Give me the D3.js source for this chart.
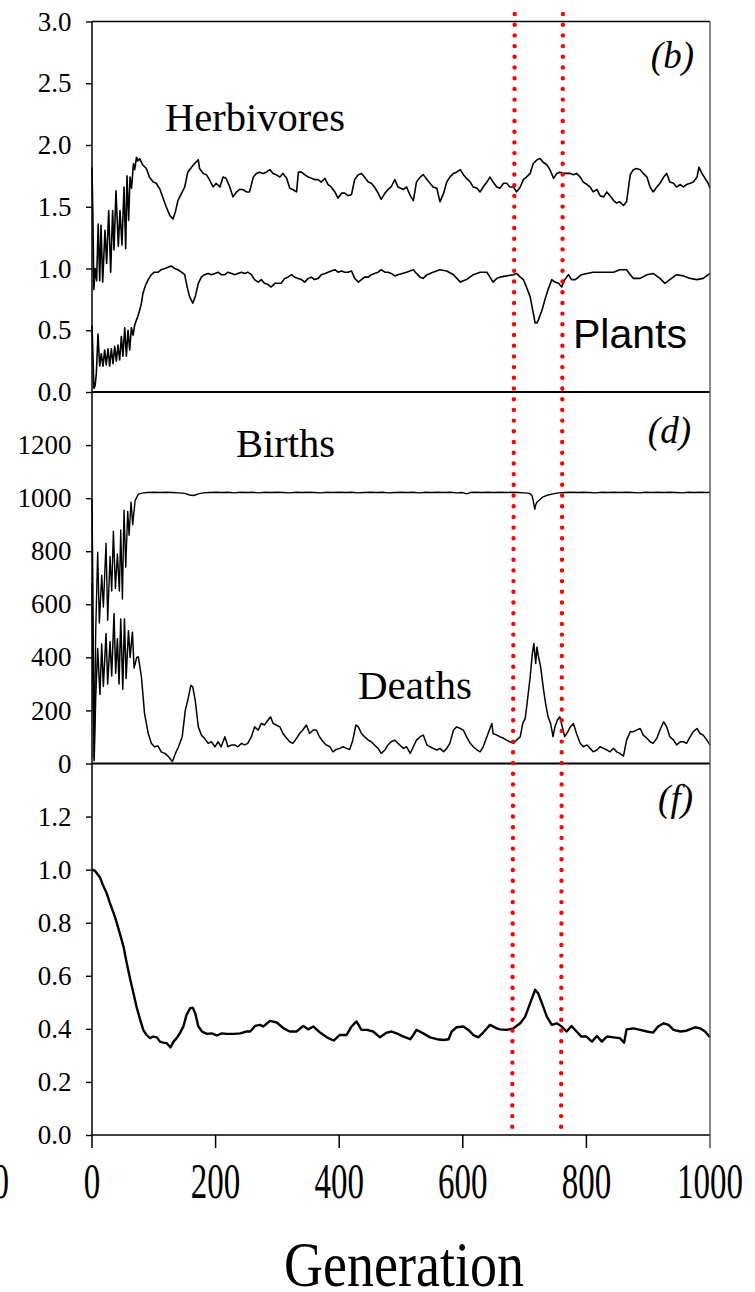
<!DOCTYPE html>
<html>
<head>
<meta charset="utf-8">
<script src="https://cdn.jsdelivr.net/npm/d3@7"></script>
<style>
  html, body { margin: 0; padding: 0; background: #fff; overflow: hidden; }
  svg { display: block; }
</style>
</head>
<body>
<svg id="chart" width="755" height="1292"></svg>
<script>
// Each series is a list of [generation, value] readings.

// ---- Panel (b): herbivore and plant densities ----
const herbivores = [[0,1.82],[1.5,1.40],[3,0.83],[5,1.00],[7.5,0.90],[10,1.36],[12.5,0.90],[14.6,1.35],[17.3,0.89],[21,1.31],[23.7,1.04],[27,1.47],[30.2,0.97],[33.4,1.47],[35.6,1.15],[38.8,1.63],[42.6,1.18],[45.3,1.47],[48.5,1.19],[51.8,1.66],[54.5,1.16],[56.6,1.75],[59.3,1.39],[61.5,1.74],[64,1.65],[67,1.85],[69,1.80],[72,1.90],[74,1.87],[77,1.89],
  [82,1.84],[88,1.81],[93,1.74],[99,1.70],[104,1.69],[110,1.64],[115,1.57],[120,1.50],[126,1.43],[131,1.40],[135,1.46],[139,1.55],[145,1.61],[150,1.66],[155,1.78],[161,1.82],[166,1.85],[172,1.88],[174,1.81],[180,1.77],[185,1.76],[190,1.72],[196,1.66],[201,1.69],[207,1.66],[212,1.74],[217,1.73],[223,1.66],[228,1.58],[234,1.62],[239,1.64],[244,1.64],[250,1.62],[255,1.62],[261,1.74],[266,1.77],[271,1.78],[277,1.77],[282,1.78],[288,1.80],[293,1.77],[298,1.76],[304,1.74],[309,1.77],[315,1.73],[320,1.65],[325,1.64],[331,1.62],[334,1.78],[339,1.78],[344,1.76],[350,1.74],[355,1.73],[360,1.72],[366,1.72],[371,1.70],[377,1.73],[382,1.68],[387,1.66],[393,1.62],[398,1.57],[404,1.61],[409,1.61],[414,1.59],[420,1.60],[425,1.72],[431,1.76],[436,1.77],[441,1.74],[447,1.70],[452,1.69],[457,1.66],[463,1.61],[468,1.56],[474,1.61],[479,1.64],[484,1.66],[490,1.72],[495,1.66],
  [504,1.64],[509,1.66],[515,1.59],[520,1.55],[525,1.70],[531,1.74],[536,1.76],[542,1.72],[547,1.69],[552,1.66],[558,1.65],[563,1.54],[569,1.61],[574,1.70],[579,1.74],[585,1.77],[590,1.78],[596,1.80],[601,1.76],[606,1.73],[612,1.70],[617,1.66],[623,1.65],[628,1.62],[633,1.66],[639,1.70],[644,1.74],[649,1.70],[655,1.66],[660,1.65],[666,1.69],[671,1.69],[676,1.66],[682,1.66],[687,1.62],[693,1.66],[698,1.72],[703,1.74],[709,1.77],[714,1.85],[720,1.88],[725,1.89],[730,1.86],[736,1.84],[741,1.80],[747,1.73],[752,1.77],[757,1.78],[763,1.77],[768,1.77],[774,1.77],[779,1.76],[784,1.77],[790,1.74],[795,1.70],[801,1.68],[806,1.66],[811,1.62],[817,1.64],[822,1.59],[828,1.58],[833,1.62],[838,1.59],[844,1.55],[849,1.53],[854,1.54],[860,1.51],[865,1.54],[871,1.76],[876,1.80],[881,1.81],[887,1.80],[892,1.77],[898,1.74],[903,1.66],[908,1.62],[914,1.66],[919,1.69],[925,1.74],[930,1.77],[935,1.70],[941,1.69],[946,1.66],[952,1.68],[957,1.66],[962,1.68],[968,1.69],[973,1.70],[979,1.74],[982,1.82],[987,1.77],[992,1.73],[997,1.69],[1000,1.65]];

const plants = [[0,0.54],[1.5,0.30],[3,0.03],[5,0.05],[7,0.15],[9.7,0.47],[12.4,0.21],[15,0.31],[17.8,0.21],[20.5,0.34],[23,0.22],[26,0.35],[28.6,0.21],[31.3,0.35],[34,0.23],[36.7,0.37],[39.4,0.25],[42,0.38],[44.8,0.26],[47.5,0.45],[50,0.29],[53,0.52],[55.6,0.29],[58.3,0.50],[61,0.34],[63.7,0.52],[66.4,0.46],[69,0.54],[71.7,0.58],[74,0.61],[77,0.66],[80,0.72],[82.5,0.80],[85,0.84],[88,0.88],[91,0.91],[96,0.95],[101,0.97],[107,0.97],[112,0.99],[118,1.00],[123,1.01],[128,1.02],[134,1.00],[139,0.99],[145,0.97],[150,0.95],[154,0.85],[158,0.77],[163,0.72],[167,0.77],[172,0.88],[177,0.93],[182,0.95],[188,0.96],[193,0.95],[199,0.96],[204,0.97],[209,0.95],[215,0.95],[220,0.97],[226,0.96],[231,0.95],[236,0.96],[242,0.97],[247,0.96],[252,0.97],[258,0.95],[263,0.91],[269,0.89],[274,0.91],[279,0.88],[285,0.87],[290,0.85],[296,0.88],[301,0.88],[306,0.88],[312,0.92],[317,0.93],[323,0.95],[328,0.93],[333,0.92],[339,0.91],[344,0.89],[350,0.92],[355,0.93],[360,0.91],[366,0.92],[371,0.95],[377,0.96],[382,0.97],[387,0.98],[393,0.99],[398,0.97],[404,0.98],[409,0.97],[414,0.97],[420,0.98],[425,0.92],[431,0.89],[436,0.91],[441,0.93],[447,0.93],[452,0.95],[457,0.96],[463,0.97],[468,0.99],[474,0.97],[479,0.97],[484,0.96],[490,0.94],[495,0.95],
  [509,0.97],[520,0.99],[525,0.96],[531,0.93],[536,0.92],[542,0.95],[552,0.97],[563,0.99],[574,0.98],[585,0.95],[596,0.89],[606,0.91],[617,0.95],[628,0.97],[639,0.97],[644,0.93],[649,0.89],[655,0.92],[660,0.93],[671,0.94],[682,0.95],[687,0.96],[693,0.93],[698,0.91],[703,0.85],[709,0.77],[714,0.64],[717,0.56],[720,0.56],[722,0.58],[728,0.66],[733,0.75],[738,0.83],[744,0.91],[749,0.89],[755,0.88],[760,0.85],[765,0.91],[771,0.95],[776,0.91],[782,0.91],[787,0.93],[792,0.95],[801,0.96],[811,0.97],[822,0.97],[833,0.97],[844,0.97],[854,0.99],[865,0.99],[871,0.95],[876,0.92],[887,0.92],[898,0.95],[908,0.96],[919,0.92],[927,0.88],[935,0.91],[946,0.95],[957,0.94],[968,0.92],[979,0.91],[989,0.92],[1000,0.96]];

// ---- Panel (d): births and deaths per generation ----
const births = [[0,1000],[1.5,650],[3.5,20],[6,500],[9.2,796],[11.9,530],[15.7,710],[18.4,590],[22.7,830],[25.4,540],[29.2,780],[31.9,650],[34.6,875],[37.9,660],[41.1,790],[44.3,650],[46.5,880],[49.2,620],[51.8,955],[54.6,740],[57.8,950],[60,860],[63.2,985],[65.9,900],[69.7,990],[75,1015],[83,1020],[90,1021],[100,1022],[110,1021],[120,1022],[130,1021],[140,1020],[150,1018],[158,1012],[165,1010],[172,1016],[180,1020],[190,1021],[200,1022],[210,1021],[220,1022],[230,1020],[240,1022],[250,1021],[260,1022],[270,1020],[280,1022],[290,1021],[300,1022],[310,1021],[320,1020],[330,1022],[340,1021],[350,1022],[360,1021],[370,1020],[380,1022],[390,1021],[400,1022],[410,1021],[420,1022],[430,1020],[440,1021],[450,1022],[460,1021],[470,1022],[480,1020],[490,1021],[500,1022],[510,1021],[520,1022],[530,1020],[540,1022],[550,1021],[560,1022],[570,1021],[580,1022],[590,1020],[600,1021],[606,1016],[612,1021],[620,1022],[630,1021],[640,1022],[650,1021],[660,1022],[670,1021],[680,1022],[690,1021],[700,1020],[708,1018],[712,1010],[714,990],[716.5,958],[718,975],[720,985],[725,995],[730,1005],[738,1012],[746,1016],[755,1020],[765,1021],[775,1022],[785,1021],[795,1022],[805,1021],[815,1020],[825,1022],[835,1021],[845,1022],[855,1021],[865,1022],[875,1021],[885,1020],[895,1022],[905,1021],[915,1022],[925,1021],[935,1022],[945,1021],[955,1020],[965,1022],[975,1021],[985,1022],[995,1021],[1000,1022]];

const deaths = [[0,680],[1.5,300],[3.5,10],[6,250],[9.2,433],[12.9,260],[15.7,450],[18.4,290],[22.7,490],[25.4,300],[29.2,460],[31.9,330],[35.6,565],[38.3,340],[41.1,470],[43.8,300],[46.5,545],[49.8,280],[52.5,545],[55.2,320],[59,500],[61.7,400],[65.4,495],[68.1,360],[72.4,400],[75,402],[80,326],[85,189],[91,113],[96,76],[101,63],[107,66],[112,44],[118,38],[123,28],[130,7],[135,38],[140,63],[146,101],[151,201],[155,239],[160,295],[163,289],[167,239],[172,138],[177,107],[182,95],[188,76],[193,82],[199,63],[204,82],[209,63],[215,101],[220,63],[226,70],[231,70],[236,63],[242,76],[247,70],[252,76],[258,101],[263,138],[269,126],[274,151],[279,145],[285,164],[289,176],[293,151],[298,145],[304,138],[309,113],[315,95],[320,82],[325,76],[331,95],[336,113],[341,126],[347,145],[352,113],[358,126],[363,126],[368,101],[374,82],[379,70],[385,63],[390,44],[395,53],[401,57],[406,63],[412,57],[417,53],[422,88],[427,145],[431,138],[436,113],[441,101],[447,88],[452,82],[457,70],[463,57],[468,38],[474,51],[479,70],[484,82],[490,88],[495,76],
  [498,70],[504,57],[509,63],[515,38],[520,63],[525,88],[531,101],[536,107],[542,70],[547,63],[552,57],[558,51],[563,57],[569,44],[574,57],[579,76],[585,126],[590,138],[596,132],[601,126],[606,101],[612,76],[617,63],[623,51],[628,44],[633,63],[639,101],[644,132],[647,151],[649,113],[655,107],[660,101],[666,95],[671,88],[676,82],[682,76],[687,88],[693,101],[697,151],[701,170],[704,226],[709,326],[712.5,414],[715,452],[718,377],[720,439],[722,408],[726,364],[730,289],[734,226],[738,176],[742,151],[746,101],[749,138],[753,164],[757,176],[761,138],[765,101],[770,120],[774,138],[779,151],[784,113],[790,76],[795,63],[801,70],[806,57],[811,44],[817,51],[822,63],[828,57],[833,51],[838,44],[844,57],[849,44],[854,38],[860,28],[865,88],[871,120],[876,120],[881,126],[887,132],[892,107],[898,95],[903,82],[908,76],[914,95],[919,126],[925,157],[930,138],[935,101],[941,88],[946,70],[952,82],[957,82],[962,76],[968,101],[973,120],[979,132],[984,113],[989,107],[995,88],[1000,70]];

// ---- Panel (f) ----
const panelF = [[0,1.00],[5,0.995],[10,0.98],[13,0.97],[18,0.94],[24,0.91],[29,0.874],[35,0.836],[40,0.80],[45,0.76],[51,0.71],[56,0.65],[62,0.585],[67,0.535],[72,0.484],[78,0.434],[83,0.396],[88,0.377],[94,0.365],[99,0.371],[105,0.368],[110,0.352],[115,0.348],[121,0.346],[127,0.33],[132,0.352],[137,0.365],[142,0.383],[148,0.41],[153,0.453],[159,0.478],[163,0.48],[167,0.459],[172,0.41],[178,0.39],[186,0.381],[194,0.383],[202,0.375],[210,0.383],[218,0.381],[229,0.381],[240,0.383],[250,0.39],[256,0.39],[264,0.411],[272,0.415],[277,0.409],[288,0.43],[299,0.424],[310,0.402],[320,0.39],[331,0.39],[342,0.411],[350,0.398],[358,0.409],[369,0.386],[380,0.368],[391,0.356],[401,0.377],[412,0.377],[420,0.409],[428,0.428],[436,0.396],[445,0.396],[455,0.39],[466,0.368],[477,0.386],[485,0.39],[493,0.383],[504,0.371],[515,0.361],[520,0.377],[525,0.396],[536,0.383],[547,0.368],[558,0.361],[569,0.358],[577,0.361],[582,0.39],[590,0.406],[601,0.409],[609,0.396],[617,0.377],[625,0.368],[633,0.386],[644,0.415],[655,0.402],[660,0.398],[671,0.396],[682,0.402],[693,0.421],[701,0.446],[709,0.497],[717,0.547],[722,0.534],[728,0.497],[736,0.446],[744,0.415],[752,0.421],[760,0.409],[768,0.39],[776,0.411],[784,0.39],[792,0.371],[800,0.371],[809,0.352],[817,0.373],[825,0.352],[833,0.371],[844,0.368],[854,0.365],[861,0.348],[865,0.398],[876,0.402],[887,0.396],[898,0.39],[908,0.386],[916,0.409],[925,0.421],[933,0.415],[941,0.396],[952,0.39],[962,0.393],[976,0.406],[984,0.402],[992,0.39],[1000,0.368]];

// ---- Axis ticks ----
const ticksB = [0, 0.5, 1.0, 1.5, 2.0, 2.5, 3.0];
const ticksD = [0, 200, 400, 600, 800, 1000, 1200];
const ticksF = [0, 0.2, 0.4, 0.6, 0.8, 1.0, 1.2];
const genTicks = [0, 200, 400, 600, 800, 1000];

// generations marking the interval of interest (top and bottom end of each dotted line)
const markerTopGen = [684, 762];
const markerBottomGen = [680, 759];

// ---- Layout ----
const svg = d3.select("#chart");
const plotLeft = 92, plotRight = 710;
const panelEdges = [21.5, 392, 763.5, 1135];
const serif = "'Liberation Serif', 'Times New Roman', serif";
const sans = "'Liberation Sans', Arial, sans-serif";

const x = d3.scaleLinear().domain([0, 1000]).range([plotLeft, plotRight]);
const yB = d3.scaleLinear().domain([0, 3]).range([panelEdges[1], panelEdges[0]]);
const yD = d3.scaleLinear().domain([0, 1400]).range([panelEdges[2], panelEdges[1]]);
const yF = d3.scaleLinear().domain([0, 1.4]).range([panelEdges[3], panelEdges[2]]);

function drawSeries(points, y, width) {
  const line = d3.line().x(d => x(d[0])).y(d => y(d[1]));
  svg.append("path")
    .datum(points)
    .attr("d", line)
    .attr("fill", "none")
    .attr("stroke", "#000")
    .attr("stroke-width", width)
    .attr("stroke-linejoin", "round");
}

function drawLeftAxis(y, ticks, fmt) {
  const g = svg.append("g")
    .attr("transform", `translate(${plotLeft},0)`)
    .call(d3.axisLeft(y).tickValues(ticks).tickFormat(fmt).tickSize(6).tickPadding(14.5));
  g.select(".domain").remove();
  g.selectAll(".tick line").attr("stroke", "#000").attr("stroke-width", 1.4);
  g.selectAll(".tick text")
    .attr("font-family", serif)
    .attr("font-size", 27)
    .attr("fill", "#000");
}

// series
drawSeries(herbivores, yB, 1.6);
drawSeries(plants, yB, 1.6);
drawSeries(births, yD, 1.4);
drawSeries(deaths, yD, 1.5);
drawSeries(panelF, yF, 2.4);

// frame
const frame = svg.append("g").attr("stroke", "#000").attr("fill", "none");
frame.append("line").attr("x1", plotLeft).attr("x2", plotRight).attr("y1", panelEdges[0]).attr("y2", panelEdges[0]).attr("stroke-width", 1.3);
frame.append("line").attr("x1", plotLeft).attr("x2", plotRight).attr("y1", panelEdges[1]).attr("y2", panelEdges[1]).attr("stroke-width", 2);
frame.append("line").attr("x1", plotLeft).attr("x2", plotRight).attr("y1", panelEdges[2]).attr("y2", panelEdges[2]).attr("stroke-width", 2.2);
frame.append("line").attr("x1", plotLeft).attr("x2", plotRight).attr("y1", panelEdges[3]).attr("y2", panelEdges[3]).attr("stroke-width", 1.5);
frame.append("line").attr("x1", plotLeft).attr("x2", plotLeft).attr("y1", panelEdges[0]).attr("y2", panelEdges[3]).attr("stroke-width", 1.5);
frame.append("line").attr("x1", plotRight).attr("x2", plotRight).attr("y1", panelEdges[0]).attr("y2", panelEdges[3]).attr("stroke", "#555").attr("stroke-width", 1.4);

// y axes
drawLeftAxis(yB, ticksB, d3.format(".1f"));
drawLeftAxis(yD, ticksD, d3.format("d"));
drawLeftAxis(yF, ticksF, d3.format(".1f"));

// x axis (ticks below the bottom panel)
svg.append("g").selectAll("line").data(genTicks).join("line")
  .attr("x1", d => x(d)).attr("x2", d => x(d))
  .attr("y1", panelEdges[3]).attr("y2", panelEdges[3] + 13)
  .attr("stroke", d => d === 1000 ? "#555" : "#000").attr("stroke-width", 1.5);

const tickLabelY = 1198;
const tickFont = 33, tickStretch = 1.52;
svg.append("g").selectAll("text").data(genTicks).join("text")
  .attr("transform", d => `translate(${x(d)},${tickLabelY}) scale(1,${tickStretch})`)
  .attr("text-anchor", "middle")
  .attr("font-family", serif)
  .attr("font-size", tickFont)
  .text(d => d);

// partly visible label of the neighbouring axis at the left edge
svg.append("text")
  .attr("transform", `translate(-24,${tickLabelY}) scale(1,${tickStretch})`)
  .attr("text-anchor", "middle")
  .attr("font-family", serif)
  .attr("font-size", tickFont)
  .text("1000");

svg.append("text")
  .attr("transform", `translate(${(plotLeft + plotRight) / 2 + 3},1286) scale(1,1.18)`)
  .attr("text-anchor", "middle")
  .attr("font-family", serif)
  .attr("font-size", 54)
  .text("Generation");

// dotted markers across all panels
svg.append("g").selectAll("line").data(markerTopGen).join("line")
  .attr("x1", d => x(d)).attr("y1", panelEdges[0] - 7.5)
  .attr("x2", (d, i) => x(markerBottomGen[i])).attr("y2", panelEdges[3])
  .attr("stroke", "#ff0000")
  .attr("stroke-width", 4.4)
  .attr("stroke-linecap", "round")
  .attr("stroke-dasharray", "0 10.7");

// panel annotations
const label = (txt, xPos, yPos, opts = {}) => svg.append("text")
  .attr("x", xPos).attr("y", yPos)
  .attr("font-family", opts.family || serif)
  .attr("font-size", opts.size || 40)
  .attr("font-style", opts.italic ? "italic" : "normal")
  .attr("text-anchor", opts.anchor || "start")
  .text(txt);

label("(b)", 694, 68, { italic: true, size: 37, anchor: "end" });
label("(d)", 691, 443, { italic: true, size: 37, anchor: "end" });
label("(f)", 693, 811, { italic: true, size: 37, anchor: "end" });
label("Herbivores", 165, 131, { size: 40.5 });
label("Plants", 573, 348, { family: sans, size: 41 });
label("Births", 236, 457, { size: 40.5 });
label("Deaths", 358, 699, { size: 41 });
</script>
</body>
</html>
